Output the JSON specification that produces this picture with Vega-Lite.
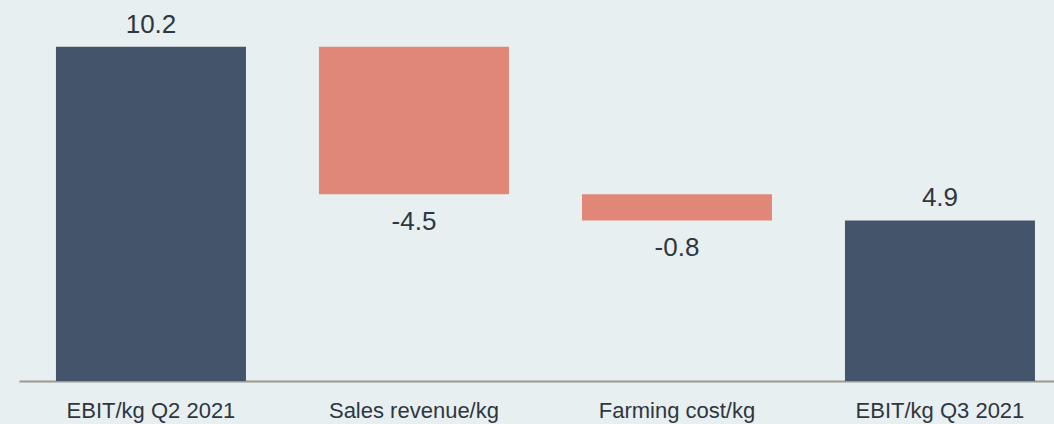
{
  "$schema": "https://vega.github.io/schema/vega-lite/v6.json",
  "width": 1035,
  "height": 381,
  "autosize": {"type": "none"},
  "padding": {"left": 19, "top": 0, "right": 0, "bottom": 43},
  "background": "#e8eff1",
  "config": {"view": {"stroke": null}, "font": "Liberation Sans"},
  "data": {"values": [
    {"cat": "EBIT/kg Q2 2021", "start": 0, "end": 10.2, "label": "10.2", "kind": "total"},
    {"cat": "Sales revenue/kg", "start": 10.2, "end": 5.7, "label": "-4.5", "kind": "neg"},
    {"cat": "Farming cost/kg", "start": 5.7, "end": 4.9, "label": "-0.8", "kind": "neg"},
    {"cat": "EBIT/kg Q3 2021", "start": 0, "end": 4.9, "label": "4.9", "kind": "total"}
  ]},
  "encoding": {
    "x": {"field": "cat", "type": "nominal", "sort": null,
      "scale": {"paddingInner": 0.2776, "paddingOuter": 0.1065, "align": 0.66},
      "axis": {"title": null, "labelAngle": 0, "ticks": false, "labelFontSize": 22, "labelColor": "#2e3640", "labelPadding": 19, "domainColor": "#9a9a8c", "domainWidth": 2, "grid": false}
    }
  },
  "layer": [
    {
      "mark": {"type": "bar"},
      "encoding": {
        "y": {"field": "start", "type": "quantitative", "scale": {"domain": [0, 11.63], "nice": false}, "axis": null},
        "y2": {"field": "end"},
        "color": {"field": "kind", "type": "nominal", "scale": {"domain": ["total", "neg"], "range": ["#44546a", "#e08777"]}, "legend": null}
      }
    },
    {
      "transform": [{"filter": "datum.kind == 'total'"}],
      "mark": {"type": "text", "baseline": "alphabetic", "dy": -14, "fontSize": 26, "color": "#2e3640"},
      "encoding": {
        "y": {"field": "end", "type": "quantitative"},
        "text": {"field": "label"}
      }
    },
    {
      "transform": [{"filter": "datum.kind == 'neg'"}],
      "mark": {"type": "text", "baseline": "top", "dy": 15, "fontSize": 26, "color": "#2e3640"},
      "encoding": {
        "y": {"field": "end", "type": "quantitative"},
        "text": {"field": "label"}
      }
    }
  ]
}
